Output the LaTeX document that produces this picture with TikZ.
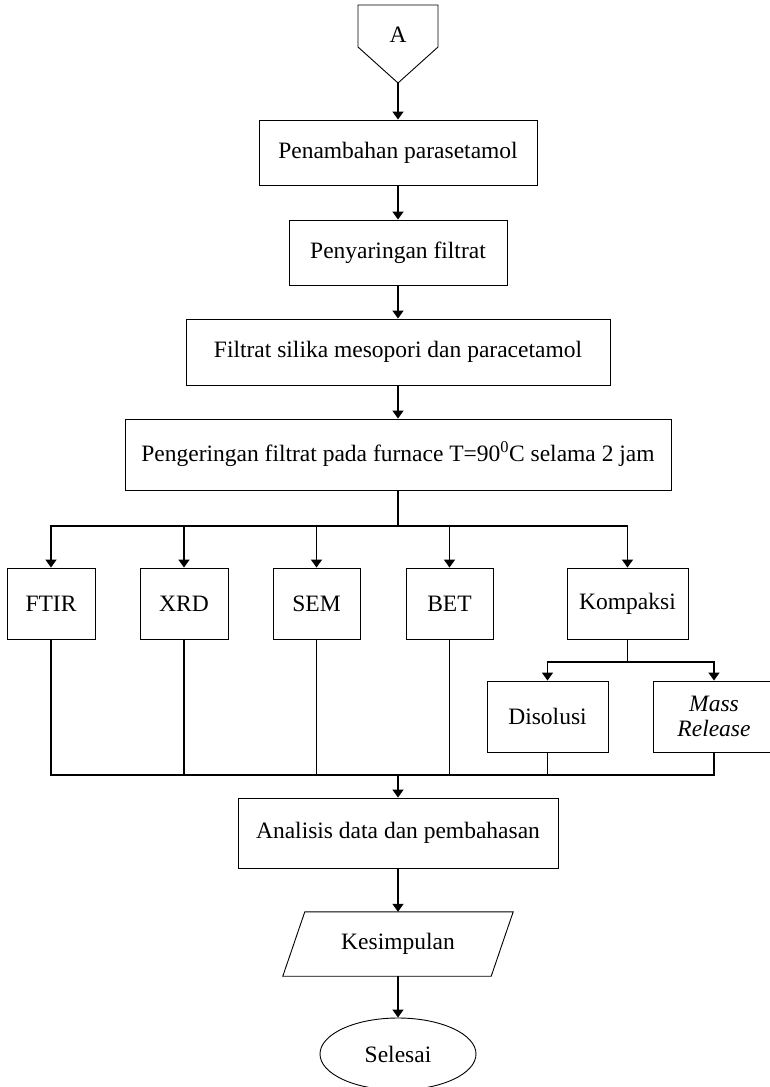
\documentclass[tikz,border=0pt]{standalone}
\usepackage{fontspec}
\setmainfont{Liberation Serif}
\usetikzlibrary{arrows.meta,shapes.geometric}
\begin{document}
\begin{tikzpicture}[x=1pt,y=-1pt,
  txt/.style={font=\fontsize{23.5}{27}\selectfont, align=center, inner sep=0pt},
  box/.style={txt, draw, line width=0.9pt},
  ln/.style={line width=1.5pt},
  arr/.style={ln, -{Triangle[length=8pt,width=11pt]}},
  shp/.style={line width=0.9pt}
]
\useasboundingbox (0,0) rectangle (769,1087);
% off-page connector
\node[txt] (A) at (398,35) {A};
\draw[shp] (358,5) -- (438,5) -- (438,47) -- (398,83) -- (358,47) -- cycle;
\coordinate (Ap) at (398,83);
% main boxes
\node[box, minimum width=278pt, minimum height=65pt] (b1) at (398,152.5) {Penambahan parasetamol};
\node[box, minimum width=218pt, minimum height=65pt] (b2) at (398,252.5) {Penyaringan filtrat};
\node[box, minimum width=424pt, minimum height=66pt] (b3) at (398,352) {Filtrat silika mesopori dan paracetamol};
\node[box, minimum width=546pt, minimum height=71pt] (b4) at (398,454.5) {Pengeringan filtrat pada furnace T=90\textsuperscript{0}C selama 2 jam};
% analysis boxes
\node[box, minimum width=88pt, minimum height=71pt] (ftir) at (51,603.5) {FTIR};
\node[box, minimum width=88pt, minimum height=71pt] (xrd) at (184,603.5) {XRD};
\node[box, minimum width=87pt, minimum height=71pt] (sem) at (316.5,603.5) {SEM};
\node[box, minimum width=87pt, minimum height=71pt] (bet) at (449.5,603.5) {BET};
\node[box, minimum width=121pt, minimum height=71pt] (komp) at (627.5,603.5) {Kompaksi};
\node[box, minimum width=121pt, minimum height=71pt] (dis) at (547.5,716.5) {Disolusi};
\node[box, minimum width=122pt, minimum height=71pt] (mr) at (714,716.5) {\itshape Mass\\[-2pt]\itshape Release};
% lower part
\node[box, minimum width=320pt, minimum height=70pt] (an) at (398,833) {Analisis data dan pembahasan};
\node[txt, minimum width=230pt, minimum height=64pt] (kes) at (398,944) {Kesimpulan};
\draw[shp] ([xshift=22pt]kes.north west) -- (kes.north east) -- ([xshift=-22pt]kes.south east) -- (kes.south west) -- cycle;
\node[txt, draw, shp, ellipse, minimum width=156pt, minimum height=72pt] (sel) at (398,1054) {Selesai};
% connectors
\draw[arr] (Ap) -- (b1.north);
\draw[arr] (b1.south) -- (b2.north);
\draw[arr] (b2.south) -- (b3.north);
\draw[arr] (b3.south) -- (b4.north);
\coordinate (br1) at (398,526);
\draw[ln] (b4.south) -- (br1);
\foreach \n in {ftir,xrd,sem,bet,komp} \draw[arr] (br1) -| (\n.north);
\coordinate (br2) at (627.5,662);
\draw[ln] (komp.south) -- (br2);
\draw[arr] (br2) -| (dis.north);
\draw[arr] (br2) -| (mr.north);
\coordinate (mg) at (398,775);
\foreach \n in {ftir,xrd,sem,bet,dis,mr} \draw[ln] (\n.south) |- (mg);
\draw[arr] (mg) -- (an.north);
\draw[arr] (an.south) -- (kes.north);
\draw[arr] (kes.south) -- (sel.north);
\end{tikzpicture}
\end{document}
